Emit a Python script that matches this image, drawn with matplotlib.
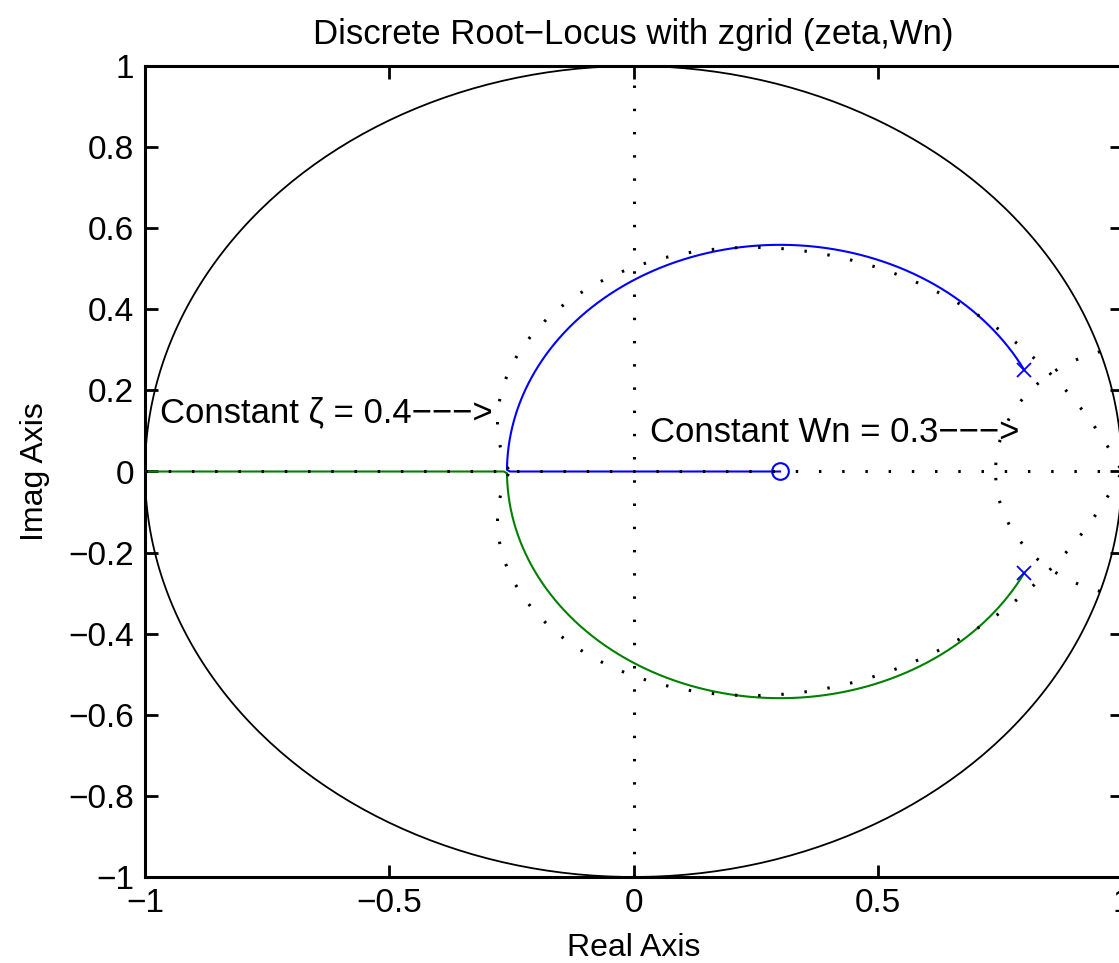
import numpy as np
import matplotlib
matplotlib.use("Agg")
import matplotlib.pyplot as plt

# ---- data ----
poles = [0.8 + 0.25j, 0.8 - 0.25j]
zeros = [0.3]
gains = np.concatenate([np.linspace(0.0, 4.0, 40001), np.geomspace(4.0, 1e6, 3000)])
zeta_val = 0.4
wn_val = 0.3
x_ticks = [-1, -0.5, 0, 0.5, 1]
y_ticks = [-1, -0.8, -0.6, -0.4, -0.2, 0, 0.2, 0.4, 0.6, 0.8, 1]
x_tick_labels = ["\u22121", "\u22120.5", "0", "0.5", "1"]
y_tick_labels = ["\u22121", "\u22120.8", "\u22120.6", "\u22120.4", "\u22120.2", "0",
                 "0.2", "0.4", "0.6", "0.8", "1"]
title_text = "Discrete Root\u2212Locus with zgrid (zeta,Wn)"
xlabel_text = "Real Axis"
ylabel_text = "Imag Axis"
zeta_note = "Constant \u03b6 = 0.4\u2212\u2212\u2212>"
wn_note = "Constant Wn = 0.3\u2212\u2212\u2212>"

# ---- compute locus ----
den = np.poly(poles).real
num = np.poly(zeros).real
num_pad = np.concatenate([np.zeros(len(den) - len(num)), num])
branch_lo, branch_hi = [], []
for k in gains:
    r = np.roots(den + k * num_pad)
    r = np.sort_complex(r)
    branch_lo.append(r[0])
    branch_hi.append(r[1])
branch_lo = np.array(branch_lo)
branch_hi = np.array(branch_hi)

fig = plt.figure(figsize=(11.19, 9.63), dpi=100)
ax = fig.add_axes([145 / 1119, (963 - 877) / 963, 977 / 1119, 811 / 963])

font = ["Liberation Sans Narrow", "Liberation Sans", "DejaVu Sans"]

# unit circle
th = np.linspace(0, 2 * np.pi, 400)
ax.plot(np.cos(th), np.sin(th), color="black", lw=1.3, zorder=2)

# locus
ax.plot(branch_hi.real, branch_hi.imag, color="#0000ff", lw=1.5, zorder=3)
ax.plot(branch_lo.real, branch_lo.imag, color="#008000", lw=1.5, zorder=3)
ax.plot([p.real for p in poles], [p.imag for p in poles], "x", color="#0000ff",
        ms=10, mew=1.3, zorder=4)
ax.plot(zeros, [0] * len(zeros), "o", color="#0000ff", mfc="none", ms=12,
        mew=1.5, zorder=4)

# zgrid (dotted)
dot = dict(color="black", lw=2.2, linestyle=(0, (0.8, 6.8)), zorder=5)
ax.plot([-1, 1], [0, 0], **dot)
ax.plot([0, 0], [-1, 1], **dot)
w = np.linspace(0, np.pi / np.sqrt(1 - zeta_val ** 2), 300)
zc = np.exp(-zeta_val * w + 1j * w * np.sqrt(1 - zeta_val ** 2))
ax.plot(zc.real, zc.imag, **dot)
ax.plot(zc.real, -zc.imag, **dot)
zs = np.linspace(0, 1, 100)
wc = np.exp(-zs * wn_val + 1j * wn_val * np.sqrt(1 - zs ** 2))
ax.plot(wc.real, wc.imag, **dot)
ax.plot(wc.real, -wc.imag, **dot)

ax.text(-0.97, 0.145, zeta_note, fontsize=25, family=font, va="center", ha="left")
ax.text(0.033, 0.095, wn_note, fontsize=25, family=font, va="center", ha="left")

ax.set_xlim(-1, 1)
ax.set_ylim(-1, 1)
ax.set_xticks(x_ticks)
ax.set_xticklabels(x_tick_labels, family=font, fontsize=24)
ax.set_yticks(y_ticks)
ax.set_yticklabels(y_tick_labels, family=font, fontsize=24)
ax.tick_params(direction="in", length=9, width=2, top=True, right=True, pad=8)
for s in ax.spines.values():
    s.set_linewidth(2.2)
ax.set_title(title_text, family=font, fontsize=25, pad=16)
ax.set_xlabel(xlabel_text, family=font, fontsize=23, labelpad=10)
ax.set_ylabel(ylabel_text, family=font, fontsize=23, labelpad=13)

fig.savefig("out.png", dpi=100)
